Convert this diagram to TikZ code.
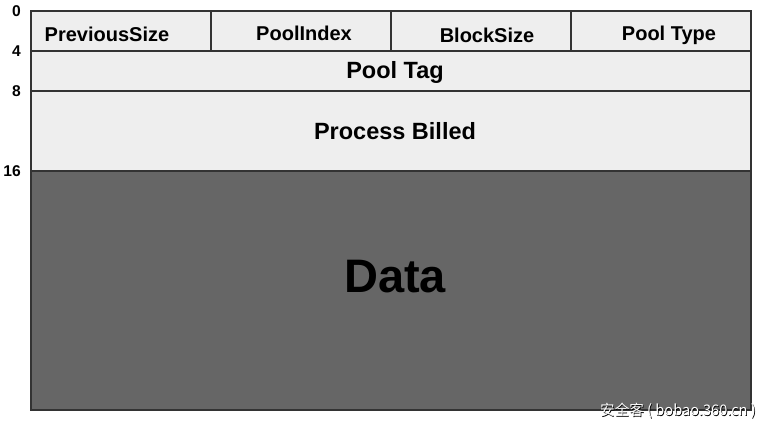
\documentclass[tikz,border=0pt]{standalone}
\usepackage{fontspec}
\setmainfont{Liberation Sans}
\newfontfamily\cjk{Noto Sans CJK SC}
\definecolor{cellfill}{HTML}{EEEEEE}
\definecolor{datafill}{HTML}{666666}
\definecolor{edge}{HTML}{333333}
\begin{document}
\begin{tikzpicture}[x=1pt,y=-1pt,
  cell/.style={draw=edge,line width=1.3pt,fill=cellfill,inner sep=0pt},
  hdr/.style={font=\bfseries\fontsize{20}{24}\selectfont,inner sep=0pt},
  row/.style={font=\bfseries\fontsize{23.5}{28}\selectfont,inner sep=0pt},
  offs/.style={anchor=east,font=\bfseries\fontsize{15.6}{18}\selectfont,inner sep=0pt}]
\useasboundingbox (0,0) rectangle (771,431);
\path[fill=white] (0,0) rectangle (771,431);
% data
\node[cell,fill=datafill,minimum width=720pt,minimum height=239pt] (data) at (391,290.5) {};
\node[inner sep=0pt,font=\bfseries\fontsize{47}{52}\selectfont] (datalbl) at (395,277) {Data};
% header row
\node[cell,minimum width=180pt,minimum height=40pt] (prev) at (121,31) {};
\node[cell,minimum width=180pt,minimum height=40pt] (pidx) at (301,31) {};
\node[cell,minimum width=180pt,minimum height=40pt] (bsz) at (481,31) {};
\node[cell,minimum width=180pt,minimum height=40pt] (ptype) at (661,31) {};
\node[hdr] (prevlbl) at (107,34) {PreviousSize};
\node[hdr] (pidxlbl) at (304,33) {PoolIndex};
\node[hdr] (bszlbl) at (487,35) {BlockSize};
\node[hdr] (ptypelbl) at (669,35) {Pool Type};
% pool tag
\node[cell,minimum width=720pt,minimum height=40pt] (tag) at (391,71) {};
\node[row] (taglbl) at (395,72) {Pool Tag};
% process billed
\node[cell,minimum width=720pt,minimum height=80pt] (bill) at (391,131) {};
\node[row] (billlbl) at (395,131) {Process Billed};
% offsets
\node[offs] (o0) at (21,11) {0};
\node[offs] (o4) at (21,51) {4};
\node[offs] (o8) at (21,91) {8};
\node[offs] (o16) at (21,171) {16};
% watermark
\node[inner sep=0pt,text=black,font=\cjk\fontsize{14.6}{16}\selectfont] (wm0) at (678.7,411.7) {安全客 ( bobao.360.cn )};
\node[inner sep=0pt,text=white,font=\cjk\fontsize{14.6}{16}\selectfont] (wm) at (678,411) {安全客 ( bobao.360.cn )};
\end{tikzpicture}
\end{document}
